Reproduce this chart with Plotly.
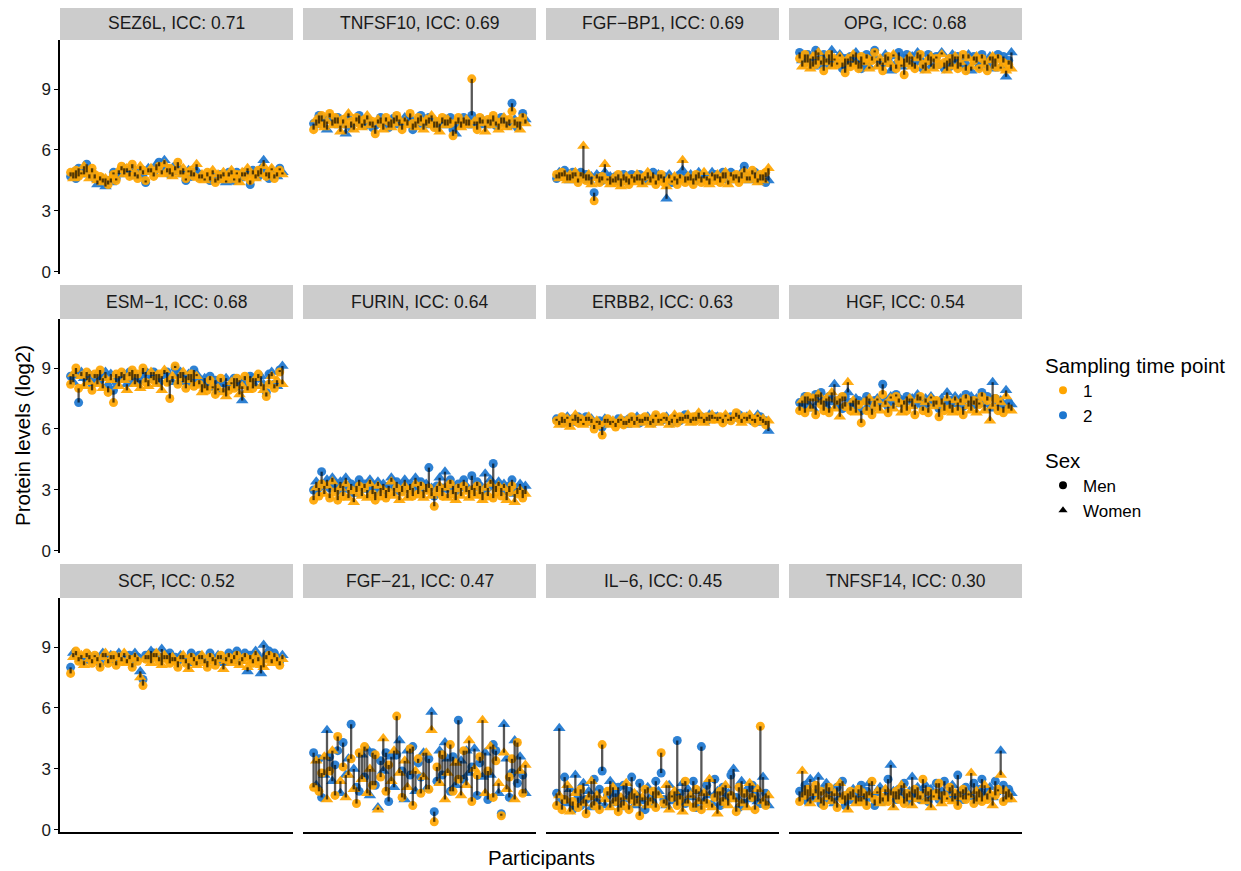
import plotly.graph_objects as go

# window is 1241x871; page body has an 8px margin, so the figure is drawn from (8, 8)
WIN_W, WIN_H = 1241, 871
OFF = 8
W, H = WIN_W - OFF, WIN_H - OFF


def px(x):
    return (x - OFF) / W


def py(y):
    return 1 - (y - OFF) / H


PROTEINS = ["SEZ6L", "TNFSF10", "FGF\u2212BP1", "OPG",
            "ESM\u22121", "FURIN", "ERBB2", "HGF",
            "SCF", "FGF\u221221", "IL\u22126", "TNFSF14"]
ICC = ["0.71", "0.69", "0.69", "0.68", "0.68", "0.64", "0.63", "0.54", "0.52", "0.47", "0.45", "0.30"]

SEX = ["M","W","M","M","W","W","M","W","M","M","W","M","W","W","M","W","M","M","W","M",
       "W","W","M","M","W","M","W","M","M","W","W","M","W","M","W","W","M","M","W","M",
       "M","W","W","M","W","M","M","W","M","W","W","M","M","W","M","W","M","W","W","M",
       "W","M","M","W","W","M","W","M","M","W","M","W","W","M","M","W","M","W","M","W"]
PARTICIPANTS = list(range(1, len(SEX) + 1))

SEZ6L_T1 = [4.9,4.6,5.0,4.7,4.8,5.2,4.9,4.6,5.1,4.8, 4.5,4.7,4.4,4.6,4.3,4.6,4.8,4.5,5.0,5.2, 4.8,5.1,4.7,5.3,4.9,4.6,5.2,5.0,4.5,4.9, 5.1,4.7,5.0,5.2,4.8,5.3,4.9,5.1,4.7,5.0, 5.4,4.8,5.1,4.6,4.9,5.0,4.7,5.3,4.6,4.8, 4.5,4.9,4.7,5.0,4.4,4.8,4.6,4.9,4.5,4.7, 5.0,4.6,4.8,4.4,4.9,4.7,5.1,4.5,4.8,4.6, 5.0,4.8,5.2,4.7,4.9,5.1,4.6,4.9,5.0,4.8]
SEZ6L_T2 = [4.7,4.9,4.6,5.1,4.9,4.8,5.3,4.8,4.9,4.6, 4.3,4.5,4.6,4.2,4.5,4.4,4.9,4.6,4.8,5.0, 5.1,4.9,5.0,5.1,4.7,4.8,5.0,4.8,4.4,5.1, 4.9,4.9,5.3,5.4,5.0,5.5,5.1,4.8,4.9,5.2, 5.1,5.0,4.8,4.5,5.0,4.7,4.9,5.0,4.8,4.6, 4.6,4.7,4.5,4.8,4.6,4.5,4.8,4.7,4.4,4.9, 4.8,4.5,4.9,4.6,4.7,4.9,4.8,4.3,5.0,4.8, 4.7,5.1,5.5,4.9,4.6,5.0,4.8,4.7,5.1,4.9]

TNFSF10_T1 = [7.0,7.5,7.3,7.7,7.1,7.4,7.8,7.2,7.6,7.3, 6.9,7.5,7.2,7.8,7.4,7.0,7.6,7.3,7.1,7.5, 7.7,7.2,7.4,6.8,7.5,7.3,7.0,7.6,7.4,7.1, 7.3,7.7,7.5,7.0,7.4,7.2,7.8,7.3,7.1,7.6, 7.4,7.0,7.5,7.3,7.7,7.1,7.4,6.9,7.6,7.2, 7.5,7.3,6.7,7.4,7.6,7.1,7.3,7.5,7.2,9.5, 7.4,7.0,7.6,7.3,6.9,7.5,7.2,7.7,7.4,7.0, 7.3,7.6,7.1,7.5,7.9,7.2,7.4,7.0,7.6,7.3]
TNFSF10_T2 = [7.3,7.2,7.7,7.4,7.5,7.0,7.6,7.5,7.3,7.6, 7.2,7.3,6.8,7.6,7.1,7.3,7.4,7.7,7.3,7.2, 7.5,7.4,7.1,7.2,7.3,7.6,7.3,7.4,7.1,7.5, 7.6,7.4,7.2,7.3,7.6,7.5,7.5,7.0,7.4,7.3, 7.7,7.3,7.2,7.6,7.4,7.4,7.1,7.3,7.3,7.5, 7.2,7.6,7.0,6.8,7.3,7.4,7.6,7.2,7.5,7.7, 7.2,7.4,7.3,7.5,7.2,7.3,7.5,7.4,7.2,7.3, 7.6,7.3,7.4,7.2,8.3,7.5,7.1,7.4,7.8,7.5]

FGFBP1_T1 = [4.8,4.6,4.9,4.7,4.5,4.8,4.6,4.9,4.4,4.7, 6.2,4.5,4.8,4.3,3.5,4.6,4.4,4.7,5.3,4.5, 4.3,4.6,4.4,4.8,4.2,4.5,4.7,4.3,4.6,4.4, 4.8,4.5,4.3,4.7,4.9,4.4,4.6,4.3,4.5,4.8, 4.4,4.2,4.6,4.5,4.7,4.3,4.6,5.5,4.4,4.7, 4.5,4.3,4.8,4.6,4.4,4.9,4.5,4.3,4.7,4.5, 4.8,4.4,4.6,4.9,4.3,4.7,4.5,4.8,4.4,4.6, 4.9,4.5,4.7,5.0,4.6,4.4,4.8,4.5,4.9,5.1]
FGFBP1_T2 = [4.6,4.9,4.7,5.0,4.8,4.5,4.9,4.7,4.6,4.9, 4.6,4.8,4.5,4.7,3.9,4.8,4.7,4.5,4.9,4.6, 4.7,4.4,4.7,4.5,4.6,4.8,4.4,4.6,4.8,4.7, 4.5,4.8,4.6,4.5,4.6,4.7,4.9,4.5,4.8,4.6, 4.7,3.6,4.8,4.4,4.5,4.6,4.8,5.0,4.7,4.5, 4.8,4.6,4.5,4.9,4.7,4.6,4.7,4.6,4.9,4.8, 4.6,4.7,4.9,4.6,4.5,4.9,4.8,4.6,4.7,4.9, 5.2,4.7,4.5,4.8,4.9,4.6,4.5,4.8,4.4,4.5]

OPG_T1 = [10.5,10.1,10.7,10.3,10.0,10.6,10.2,10.8,10.4,9.9, 10.3,10.7,10.1,10.5,10.2,10.6,10.3,9.8,10.5,10.1, 10.7,10.2,10.0,10.6,10.3,10.5,10.0,10.4,10.8,10.1, 10.5,9.9,10.3,10.6,10.2,10.7,10.0,10.4,10.2,9.7, 10.3,10.6,10.1,10.0,10.5,10.7,10.2,9.9,10.4,10.6, 10.0,10.5,10.2,10.7,10.3,9.9,10.5,10.1,10.6,10.0, 10.3,10.7,9.9,10.5,10.1,10.4,10.6,10.0,10.5,10.2, 9.9,10.4,10.6,10.1,10.5,10.0,10.3,9.9,10.2,10.0]
OPG_T2 = [10.8,10.4,10.3,10.7,10.5,10.1,10.9,10.4,10.2,10.7, 10.5,10.2,10.9,10.4,10.3,10.7,10.0,10.5,10.2,10.6, 10.3,10.8,10.4,10.0,10.2,10.7,10.1,10.6,10.9,10.4, 10.2,10.3,10.7,10.4,9.9,10.6,10.2,10.8,10.1,10.5, 10.7,10.2,10.6,10.3,10.8,10.4,10.0,10.3,10.7,10.1, 10.5,10.6,10.2,10.8,10.0,10.4,10.1,10.7,10.3,10.6, 10.1,10.5,10.2,10.7,9.9,10.6,10.3,10.1,10.7,10.4, 10.2,10.6,10.0,10.5,10.7,10.1,10.6,9.6,10.4,10.8]

ESM1_T1 = [8.2,8.7,9.0,8.0,8.6,8.1,8.8,8.3,7.9,8.7, 8.2,8.9,8.0,8.5,7.8,8.4,7.3,8.7,8.1,8.8, 8.4,7.9,8.6,8.9,8.2,8.7,8.0,9.0,8.3,8.1, 8.8,8.4,8.2,8.7,7.9,8.9,8.3,7.5,8.6,9.1, 8.2,8.5,8.8,8.0,8.4,8.7,8.1,8.6,8.2,7.8, 8.0,7.9,8.4,8.1,7.7,8.0,8.5,7.8,7.6,7.9, 8.3,8.0,8.5,7.7,8.1,8.6,7.9,8.3,8.0,8.5, 8.7,8.1,7.9,7.6,8.2,8.6,8.0,8.4,8.8,8.2]
ESM1_T2 = [8.6,8.3,8.7,7.3,8.8,8.5,8.4,8.7,8.2,8.5, 8.7,8.4,8.5,8.8,8.1,8.7,7.9,8.3,8.6,8.5, 8.7,8.2,8.8,8.4,8.7,8.3,8.4,8.7,8.8,8.4, 8.5,8.8,8.7,8.3,8.6,8.7,8.8,8.4,8.3,9.0, 8.7,8.8,8.3,8.6,8.7,8.3,8.9,8.7,8.4,8.2, 8.5,8.2,8.6,8.0,8.4,7.9,8.3,8.2,8.5,8.1, 8.2,8.5,8.1,8.4,7.4,8.4,8.1,8.6,8.5,8.1, 8.5,8.6,8.2,7.8,8.7,8.8,8.2,8.1,8.9,9.1]

FURIN_T1 = [2.5,3.1,2.7,3.3,2.8,3.2,2.6,3.4,2.9,2.5, 3.1,2.7,3.3,2.6,3.0,2.4,2.9,3.2,2.7,3.1, 2.6,3.3,2.8,2.5,3.2,2.7,3.0,2.6,2.9,3.4, 2.7,3.1,2.5,2.9,3.2,2.6,3.0,2.7,3.3,2.8, 3.2,2.6,2.9,3.1,2.7,2.2,2.9,3.2,2.7,3.1, 2.6,3.3,2.8,2.5,3.1,2.7,3.2,2.9,2.6,3.0, 2.7,3.2,2.8,2.5,3.1,2.7,3.3,2.6,2.9,3.2, 2.7,3.1,2.5,2.9,3.2,2.4,2.8,3.0,2.6,2.8]
FURIN_T2 = [3.0,3.4,3.1,3.9,3.2,3.5,3.1,3.6,3.3,3.0, 3.4,3.2,3.6,3.0,3.3,2.8,3.2,3.5,3.1,3.3, 3.0,3.5,3.2,2.9,3.4,3.1,3.3,3.0,3.2,3.6, 3.1,3.4,2.9,3.2,3.5,3.0,3.3,3.1,3.6,3.2, 3.4,3.0,3.3,4.1,3.1,2.7,3.2,3.6,3.1,3.9, 3.0,3.5,3.2,2.9,3.3,3.1,3.5,3.2,3.0,3.7, 3.1,3.4,3.2,2.9,3.8,3.1,3.5,4.3,3.2,3.4, 3.1,3.3,2.9,3.2,3.5,2.8,3.1,3.3,3.0,3.2]

ERBB2_T1 = [6.4,6.2,6.6,6.3,6.5,6.1,6.4,6.7,6.3,6.5, 6.2,6.4,6.6,6.3,6.0,6.4,6.2,5.7,6.3,6.5, 6.2,6.4,6.1,6.3,6.5,6.2,6.4,6.3,6.6,6.2, 6.4,6.5,6.3,6.6,6.4,6.2,6.5,6.7,6.3,6.5, 6.6,6.4,6.2,6.5,6.7,6.3,6.6,6.4,6.5,6.7, 6.3,6.6,6.4,6.8,6.5,6.3,6.6,6.4,6.7,6.5, 6.4,6.6,6.3,6.7,6.5,6.4,6.6,6.8,6.5,6.3, 6.6,6.4,6.7,6.5,6.3,6.6,6.4,6.5,6.2,6.4]
ERBB2_T2 = [6.5,6.4,6.3,6.5,6.6,6.3,6.5,6.4,6.6,6.4, 6.3,6.6,6.4,6.5,6.2,6.3,6.4,6.1,6.5,6.3, 6.4,6.3,6.3,6.5,6.4,6.4,6.2,6.5,6.4,6.4, 6.6,6.3,6.5,6.4,6.6,6.4,6.3,6.6,6.5,6.4, 6.5,6.6,6.4,6.3,6.6,6.5,6.4,6.6,6.7,6.5, 6.5,6.4,6.6,6.5,6.6,6.5,6.4,6.7,6.5,6.6, 6.6,6.5,6.5,6.6,6.4,6.6,6.5,6.6,6.7,6.5, 6.5,6.6,6.5,6.4,6.5,6.7,6.6,6.3,6.4,5.9]

HGF_T1 = [6.9,7.4,6.8,7.6,7.0,7.5,6.7,7.7,7.2,6.9, 7.5,6.8,7.8,7.0,7.4,6.6,7.6,7.1,8.3,6.9, 7.4,6.8,7.2,6.3,7.3,6.9,7.5,6.7,7.1,7.4, 6.9,7.7,7.2,6.8,7.5,7.0,7.6,7.3,6.8,7.2, 6.9,7.5,7.1,6.7,7.4,7.6,6.9,7.3,6.8,7.5, 7.1,7.4,6.6,7.2,6.9,7.5,7.0,6.8,7.4,6.9, 7.3,6.7,7.5,7.1,6.9,7.4,6.8,7.2,7.6,6.9, 7.4,6.4,7.1,7.5,6.9,7.3,6.8,7.6,7.0,6.9]
HGF_T2 = [7.3,7.1,7.6,7.2,7.5,7.0,7.7,7.3,7.8,7.4, 7.1,7.6,7.3,8.2,7.2,7.5,7.0,7.6,7.8,7.3, 7.1,7.5,7.4,6.9,7.3,7.6,7.2,7.0,7.4,7.5, 7.2,8.2,7.4,7.1,7.6,7.3,7.7,7.5,7.2,7.4, 7.6,7.3,7.5,7.2,7.7,7.4,7.1,7.5,7.3,7.6, 7.4,7.2,7.0,7.5,7.3,7.8,7.4,7.2,7.6,7.3, 7.5,7.1,7.7,7.4,7.6,7.2,7.5,7.3,7.8,7.2, 7.6,7.0,8.3,7.5,7.2,7.4,7.1,7.9,7.3,7.2]

SCF_T1 = [7.7,8.5,8.8,8.3,8.6,8.1,8.7,8.4,8.2,8.6, 8.3,8.0,8.5,8.7,8.2,8.4,8.6,8.1,8.5,8.3, 8.7,8.2,8.4,8.0,8.5,8.3,7.5,7.1,8.4,8.6, 8.2,8.5,8.7,8.3,8.1,8.6,8.4,8.2,8.5,8.3, 8.0,8.4,8.6,8.2,7.9,8.5,8.3,8.1,8.4,8.6, 8.2,8.0,8.5,8.3,8.1,8.4,8.6,7.9,8.3,8.5, 8.2,8.4,8.6,8.1,8.3,8.5,8.0,8.4,8.2,8.6, 8.3,8.1,8.0,8.4,8.6,8.2,8.5,8.3,8.1,8.4]
SCF_T2 = [8.0,8.7,8.6,8.5,8.4,8.3,8.5,8.6,8.4,8.5, 8.5,8.2,8.7,8.5,8.4,8.6,8.4,8.3,8.7,8.5, 8.5,8.4,8.6,8.2,8.7,8.5,7.8,7.4,8.6,8.4, 8.8,8.7,8.5,8.5,8.9,8.4,8.6,8.7,8.3,8.5, 8.3,8.6,8.4,8.4,8.2,8.7,8.5,8.3,8.6,8.4, 8.4,8.3,8.7,8.5,8.4,8.6,8.4,8.2,8.5,8.7, 8.4,8.6,8.8,8.3,8.5,8.7,7.8,8.6,8.4,8.8, 8.5,7.7,9.1,8.6,8.8,8.4,8.7,8.5,8.3,8.6]

FGF21_T1 = [2.1,3.4,1.9,2.8,3.6,1.5,2.9,3.9,1.7,4.6, 2.4,3.1,1.6,2.7,3.5,2.0,1.3,3.8,2.5,4.1, 1.8,3.0,2.2,3.7,1.0,2.6,4.5,1.9,3.2,2.4, 3.9,5.6,2.8,1.6,3.4,2.1,4.0,1.2,2.9,3.5, 1.8,2.6,3.8,2.0,4.9,0.4,3.1,2.3,3.7,1.5, 2.8,4.2,1.9,3.3,2.5,1.7,3.9,2.2,4.4,1.4, 3.0,2.7,3.6,5.4,1.8,2.9,4.1,1.6,3.4,2.3, 0.7,3.8,2.0,2.6,3.5,1.5,4.3,2.9,1.8,3.2]
FGF21_T2 = [3.8,2.2,3.5,1.6,2.7,4.9,3.6,2.4,3.2,3.9, 1.8,4.3,2.7,3.5,5.2,3.0,2.1,1.9,3.7,2.6, 4.0,1.7,3.8,2.2,1.1,3.4,2.9,3.8,1.4,3.6, 2.1,3.7,4.4,2.9,1.5,3.9,2.7,4.1,1.9,3.3, 2.6,3.8,2.0,3.5,5.8,0.9,2.4,3.9,2.7,4.3, 3.5,1.9,3.6,2.2,5.4,3.4,2.5,3.9,2.8,3.1, 4.0,1.7,3.3,2.6,3.8,1.5,2.7,4.2,3.9,1.8, 0.8,5.2,3.5,1.6,2.8,4.4,2.3,3.6,2.7,1.8]

IL6_T1 = [1.2,1.7,1.0,1.5,2.2,0.9,1.4,1.8,1.1,2.0, 1.3,0.8,1.6,2.4,1.2,1.7,1.0,4.2,1.5,1.9, 1.1,2.1,1.4,0.9,1.6,1.2,2.3,1.0,1.5,1.8, 1.3,0.7,1.6,2.0,1.2,1.4,1.9,1.1,1.7,3.8, 1.3,2.2,1.0,1.6,1.9,1.2,1.5,0.9,2.4,1.3, 1.7,1.1,2.0,1.4,1.0,1.8,1.3,2.5,1.1,1.6, 0.8,1.9,1.4,2.2,1.2,1.7,1.5,0.9,2.1,1.3, 1.8,1.1,2.3,1.6,1.0,2.0,5.1,1.4,1.2,1.7]
IL6_T2 = [1.8,5.0,1.5,2.6,1.3,2.0,1.0,2.7,1.6,1.2, 2.3,1.5,1.9,1.1,2.5,1.4,2.0,2.9,1.2,1.7, 2.4,1.3,1.8,2.1,1.1,2.2,1.5,1.9,2.6,1.2, 1.7,2.3,1.4,1.0,2.1,1.6,1.3,2.4,1.9,2.8, 1.5,1.2,2.2,1.7,1.4,4.4,1.8,2.3,1.3,2.0, 1.6,2.4,1.1,1.9,4.1,1.4,2.2,1.7,1.3,2.5, 1.9,1.2,2.1,1.5,1.8,2.7,3.0,1.6,1.1,2.4, 1.3,2.0,1.5,2.2,1.7,1.4,1.3,2.6,1.8,1.2]

TNFSF14_T1 = [1.4,2.9,1.7,2.0,1.3,1.8,2.2,1.5,1.9,1.2, 1.6,2.1,1.4,1.8,1.1,2.3,1.5,1.7,1.0,1.9, 1.6,1.3,2.0,1.4,1.8,1.2,1.7,2.4,1.5,1.9, 1.3,1.6,2.0,1.4,1.7,1.1,1.9,1.5,2.2,1.3, 1.8,1.6,1.2,2.0,1.5,1.7,2.5,1.4,1.9,1.1, 1.6,1.8,2.3,1.3,1.7,1.5,2.1,1.4,1.8,1.2, 1.6,2.0,1.5,1.7,2.8,1.3,1.9,1.6,1.4,2.2, 1.5,1.8,1.2,1.7,2.0,2.7,1.4,1.9,1.6,1.5]
TNFSF14_T2 = [1.9,1.6,2.2,1.4,2.5,1.5,1.8,2.6,1.3,2.0, 2.3,1.5,1.9,1.3,2.1,1.6,2.4,1.2,1.8,1.5, 2.0,1.7,1.4,2.2,1.5,1.9,2.3,1.6,1.2,1.8, 2.1,1.4,1.7,2.5,3.2,1.9,1.5,2.0,1.7,2.3, 1.4,1.9,2.6,1.6,2.1,1.5,1.8,2.2,1.4,2.0, 1.7,2.3,1.5,1.9,2.4,1.6,1.8,2.2,1.5,2.7, 1.9,1.5,2.1,1.8,1.6,2.3,1.4,2.0,2.5,1.7, 1.8,2.1,1.6,2.4,1.9,3.9,2.2,1.5,2.0,1.8]

SERIES = [(SEZ6L_T1, SEZ6L_T2), (TNFSF10_T1, TNFSF10_T2), (FGFBP1_T1, FGFBP1_T2), (OPG_T1, OPG_T2),
          (ESM1_T1, ESM1_T2), (FURIN_T1, FURIN_T2), (ERBB2_T1, ERBB2_T2), (HGF_T1, HGF_T2),
          (SCF_T1, SCF_T2), (FGF21_T1, FGF21_T2), (IL6_T1, IL6_T2), (TNFSF14_T1, TNFSF14_T2)]

TIME_LABELS = ["1", "2"]
SEX_LABELS = {"M": "Men", "W": "Women"}
Y_TICKS = [0, 3, 6, 9]

# ---- styling ----
ORANGE = "#FFA500"
BLUE = "#1C76CF"
COLORS = [ORANGE, BLUE]
SYMBOL = {"M": "circle", "W": "triangle-up"}
MSIZE = {"M": 9, "W": 11}
FONT = "Liberation Sans, Arial, sans-serif"

COL_X = [60, 303, 546, 789]      # reference pixel positions
PANEL_W = 233
ROW_TOP = [40, 319, 598]
PANEL_H = 234
STRIP_H = 34

n = len(PARTICIPANTS)
xpad = 0.05 * (n - 1)
XRANGE = [PARTICIPANTS[0] - xpad, PARTICIPANTS[-1] + xpad]
YRANGE = [-0.1, 11.41]

fig = go.Figure()
layout = {}
shapes = []
annotations = []

symbols = [SYMBOL[s] for s in SEX]
sizes = [MSIZE[s] for s in SEX]

for i, (name, icc, (t1, t2)) in enumerate(zip(PROTEINS, ICC, SERIES)):
    r, c = divmod(i, 4)
    k = i + 1
    xa = "x" if k == 1 else f"x{k}"
    ya = "y" if k == 1 else f"y{k}"
    x0 = px(COL_X[c])
    x1 = px(COL_X[c] + PANEL_W)
    ytop = py(ROW_TOP[r])
    ybot = py(ROW_TOP[r] + PANEL_H)

    for tvals, col in ((t2, BLUE), (t1, ORANGE)):
        fig.add_trace(go.Scatter(
            x=PARTICIPANTS, y=tvals, mode="markers", xaxis=xa, yaxis=ya,
            marker=dict(color=col, symbol=symbols, size=sizes, opacity=0.92, line=dict(width=0)),
            showlegend=False, hoverinfo="skip"))
    lx, ly = [], []
    for p, a, b in zip(PARTICIPANTS, t1, t2):
        lx += [p, p, None]
        ly += [a, b, None]
    fig.add_trace(go.Scatter(
        x=lx, y=ly, mode="lines", xaxis=xa, yaxis=ya,
        line=dict(color="rgba(0,0,0,0.66)", width=2.3),
        showlegend=False, hoverinfo="skip"))

    xkey = "xaxis" if k == 1 else f"xaxis{k}"
    ykey = "yaxis" if k == 1 else f"yaxis{k}"
    layout[xkey] = dict(domain=[x0, x1], range=XRANGE, anchor=ya, showgrid=False, zeroline=False,
                        showticklabels=False, ticks="",
                        showline=(r == 2), linecolor="black", linewidth=1.5)
    layout[ykey] = dict(domain=[ybot, ytop], range=YRANGE, anchor=xa, showgrid=False, zeroline=False,
                        showline=(c == 0), linecolor="black", linewidth=1.5,
                        tickvals=Y_TICKS, ticktext=[str(v) for v in Y_TICKS],
                        showticklabels=(c == 0), ticks="outside" if c == 0 else "",
                        ticklen=4, tickwidth=1.3, tickcolor="black",
                        tickfont=dict(size=17, color="#1a1a1a", family=FONT))

    sy0 = py(ROW_TOP[r])
    sy1 = py(ROW_TOP[r] - STRIP_H)
    shapes.append(dict(type="rect", xref="paper", yref="paper", x0=x0, x1=x1, y0=sy0, y1=sy1,
                       fillcolor="#CCCCCC", line=dict(width=0), layer="below"))
    annotations.append(dict(xref="paper", yref="paper", x=(x0 + x1) / 2, y=(sy0 + sy1) / 2,
                            text=f"{name}, ICC: {icc}", showarrow=False,
                            font=dict(size=17.5, color="#1a1a1a", family=FONT),
                            xanchor="center", yanchor="middle"))

for lab, col in zip(TIME_LABELS, COLORS):
    fig.add_trace(go.Scatter(x=[None], y=[None], mode="markers", name=lab, legend="legend",
                             marker=dict(color=col, symbol="circle", size=8)))
for key in ["M", "W"]:
    fig.add_trace(go.Scatter(x=[None], y=[None], mode="markers", name=SEX_LABELS[key], legend="legend2",
                             marker=dict(color="black", symbol=SYMBOL[key], size=8)))

annotations.append(dict(xref="paper", yref="paper", x=px(22), y=py(436), text="Protein levels (log2)",
                        textangle=-90, showarrow=False, font=dict(size=20.5, color="black", family=FONT),
                        xanchor="center", yanchor="middle"))
annotations.append(dict(xref="paper", yref="paper", x=px(541), y=py(857), text="Participants",
                        showarrow=False, font=dict(size=20.5, color="black", family=FONT),
                        xanchor="center", yanchor="middle"))

fig.update_layout(
    width=W, height=H, margin=dict(l=0, r=0, t=0, b=0, autoexpand=False),
    paper_bgcolor="white", plot_bgcolor="white",
    font=dict(family=FONT, color="black"),
    shapes=shapes, annotations=annotations,
    legend=dict(title=dict(text="Sampling time point", font=dict(size=20.5)), x=px(1043), y=py(346),
                xanchor="left", yanchor="top", font=dict(size=17), bgcolor="rgba(0,0,0,0)",
                itemwidth=30, tracegroupgap=0),
    legend2=dict(title=dict(text="Sex", font=dict(size=20.5)), x=px(1043), y=py(441),
                 xanchor="left", yanchor="top", font=dict(size=17), bgcolor="rgba(0,0,0,0)",
                 itemwidth=30, tracegroupgap=0),
    **layout,
)

fig.write_html("out.html")
